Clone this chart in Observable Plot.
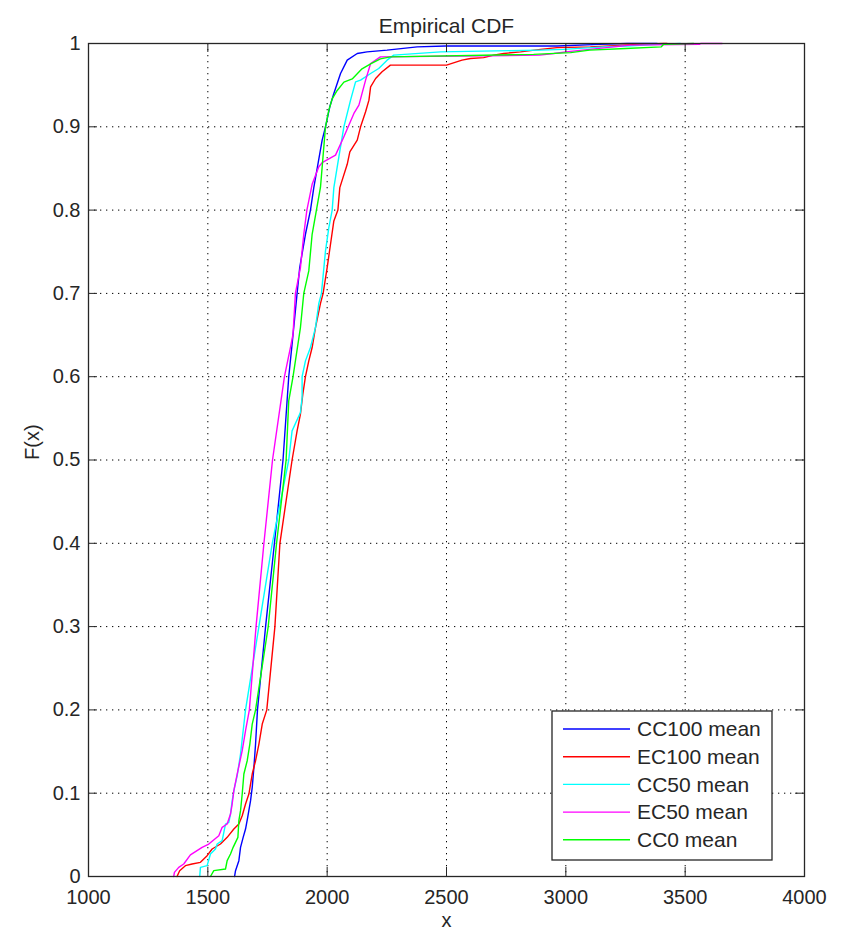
<!DOCTYPE html>
<html><head><meta charset="utf-8">
<script src="https://cdn.jsdelivr.net/npm/d3@7"></script>
<script src="https://cdn.jsdelivr.net/npm/@observablehq/plot@0.6"></script>
<style>
body{margin:0;background:#fff;}
#chart{width:842px;height:935px;}
svg{font-family:"Liberation Sans",Arial,Helvetica,sans-serif;}
</style>
</head><body><div id="chart"></div>
<script>
const titleText = "Empirical CDF";
const xLabel = "x";
const yLabel = "F(x)";
const seriesNames = ["CC100 mean", "EC100 mean", "CC50 mean", "EC50 mean", "CC0 mean"];
const seriesColors = ["#0000ff", "#ff0000", "#00ffff", "#ff00ff", "#00ff00"];
const xTicks = [1000, 1500, 2000, 2500, 3000, 3500, 4000];
const yTicks = [0, 0.1, 0.2, 0.3, 0.4, 0.5, 0.6, 0.7, 0.8, 0.9, 1];
const yTickLabels = ["0", "0.1", "0.2", "0.3", "0.4", "0.5", "0.6", "0.7", "0.8", "0.9", "1"];

// CC100 mean (blue)
const cc100X = [1612,1616,1630,1637,1648,1658,1667,1679,1686,1693,1700,1708,1742,1779,1815,1839,1853,1874,1885,1909,1930,1944,1979,1993,2011,2028,2056,2084,2126,2167,2251,2377,2496,2963,3140,3257,3383];
const cc100F = [0,0.007,0.019,0.035,0.047,0.057,0.071,0.091,0.107,0.131,0.159,0.2,0.3,0.4,0.5,0.6,0.639,0.7,0.731,0.771,0.8,0.827,0.884,0.9,0.924,0.94,0.964,0.98,0.988,0.99,0.992,0.996,0.997,0.997,0.999,1,1];

// EC100 mean (red)
const ec100X = [1371,1382,1406,1434,1469,1497,1518,1553,1581,1609,1630,1644,1658,1672,1686,1700,1714,1728,1747,1781,1802,1853,1874,1888,1898,1909,1923,1937,1951,1972,1983,2000,2014,2028,2045,2053,2084,2095,2126,2140,2161,2175,2182,2203,2230,2265,2500,2565,2600,2656,2698,2740,2810,2894,2963,3103,3300,3410,3424];
const ec100F = [0,0.007,0.013,0.015,0.017,0.025,0.033,0.039,0.047,0.057,0.063,0.073,0.087,0.099,0.123,0.139,0.159,0.183,0.2,0.3,0.4,0.5,0.535,0.555,0.579,0.6,0.619,0.635,0.659,0.688,0.7,0.731,0.759,0.787,0.8,0.827,0.855,0.87,0.884,0.9,0.918,0.932,0.948,0.958,0.966,0.974,0.974,0.98,0.982,0.983,0.986,0.988,0.99,0.993,0.995,0.996,0.999,1,1];

// CC50 mean (cyan)
const cc50X = [1466,1469,1497,1511,1532,1539,1560,1574,1588,1595,1602,1612,1623,1637,1648,1658,1714,1770,1839,1853,1888,1895,1895,1909,1930,1951,1965,1976,1993,2007,2021,2028,2049,2070,2098,2119,2140,2182,2216,2251,2279,2475,2894,2990,3159,3258,3384,3480];
const cc50F = [0,0.011,0.013,0.027,0.033,0.039,0.043,0.063,0.065,0.075,0.091,0.107,0.121,0.147,0.175,0.2,0.3,0.4,0.5,0.535,0.557,0.575,0.6,0.619,0.635,0.659,0.688,0.7,0.751,0.779,0.8,0.827,0.864,0.9,0.932,0.954,0.956,0.964,0.97,0.98,0.986,0.99,0.992,0.993,0.996,0.997,0.999,1];

// EC50 mean (magenta)
const ec50X = [1357,1360,1378,1399,1427,1476,1504,1546,1560,1581,1595,1602,1609,1623,1644,1658,1674,1702,1735,1771,1821,1846,1857,1867,1888,1902,1915,1937,1965,1979,2035,2070,2112,2133,2161,2182,2223,2890,2950,3000,3100,3200,3270,3560,3565,3655];
const ec50F = [0,0.005,0.011,0.015,0.026,0.035,0.039,0.049,0.059,0.063,0.075,0.087,0.103,0.123,0.151,0.175,0.2,0.3,0.4,0.5,0.6,0.635,0.651,0.7,0.731,0.771,0.8,0.831,0.852,0.857,0.866,0.888,0.916,0.926,0.956,0.976,0.984,0.986,0.988,0.99,0.993,0.996,0.998,0.999,1,1];

// CC0 mean (green)
const cc0X = [1511,1525,1574,1581,1595,1606,1626,1630,1637,1644,1651,1665,1676,1686,1700,1753,1788,1828,1839,1857,1888,1902,1923,1937,1955,1972,1993,2007,2021,2042,2070,2105,2126,2146,2182,2223,2265,2865,3020,3100,3250,3400,3410,3535];
const cc0F = [0,0.007,0.009,0.019,0.027,0.035,0.047,0.067,0.079,0.099,0.123,0.139,0.159,0.183,0.2,0.3,0.4,0.5,0.571,0.6,0.659,0.7,0.727,0.771,0.8,0.8275,0.9,0.92,0.9335,0.9436,0.9536,0.9575,0.9636,0.9696,0.9756,0.9816,0.984,0.987,0.989,0.992,0.994,0.996,0.999,1];

const seriesX = [cc100X, ec100X, cc50X, ec50X, cc0X];
const seriesF = [cc100F, ec100F, cc50F, ec50F, cc0F];
const table = seriesNames.flatMap((name, i) => seriesX[i].map((x, j) => ({series: name, x, F: seriesF[i][j]})));

const ink = "#262626";
const W = 842, H = 935;
const mL = 88, mR = 38, mT = 43, mB = 59;
const tickLenPx = 9;
const xPerPx = (4000 - 1000) / (W - mL - mR);
const yPerPx = 1 / (H - mT - mB);
const innerX = xTicks.slice(1, -1);
const innerY = yTicks.slice(1, -1);
const dots = "1.3,4.7";

const plot = Plot.plot({
  width: W, height: H,
  marginLeft: mL, marginRight: mR, marginTop: mT, marginBottom: mB,
  style: {fontFamily: '"Liberation Sans", Arial, sans-serif', background: "#fff", color: ink},
  x: {domain: [1000, 4000], ticks: xTicks},
  y: {domain: [0, 1], ticks: yTicks},
  color: {domain: seriesNames, range: seriesColors},
  marks: [
    Plot.ruleX(innerX, {x: d => d, stroke: "#000", strokeWidth: 1, strokeDasharray: dots}),
    Plot.ruleY(innerY, {y: d => d, stroke: "#000", strokeWidth: 1, strokeDasharray: dots}),
    Plot.line(table, {x: "x", y: "F", z: "series", stroke: "series", strokeWidth: 1.4, curve: "linear"}),
    Plot.ruleX(xTicks, {x: d => d, y1: 0, y2: tickLenPx * yPerPx, stroke: ink}),
    Plot.ruleX(xTicks, {x: d => d, y1: 1 - tickLenPx * yPerPx, y2: 1, stroke: ink}),
    Plot.ruleY(yTicks, {y: d => d, x1: 1000, x2: 1000 + tickLenPx * xPerPx, stroke: ink}),
    Plot.ruleY(yTicks, {y: d => d, x1: 4000 - tickLenPx * xPerPx, x2: 4000, stroke: ink}),
    Plot.frame({stroke: ink, strokeWidth: 1.3}),
    Plot.axisX({ticks: xTicks, tickSize: 0, tickPadding: 13, fontSize: 20, label: null, tickFormat: d => String(d), fill: ink}),
    Plot.axisY({ticks: yTicks, tickSize: 0, tickPadding: 8, fontSize: 20, label: null, tickFormat: (d, i) => yTickLabels[i], fill: ink}),
    Plot.text([titleText], {text: d => d, frameAnchor: "top", dy: -25, fontSize: 21, fill: ink}),
    Plot.text([xLabel], {text: d => d, frameAnchor: "bottom", dy: 50, fontSize: 20, fill: ink}),
    Plot.text([yLabel], {text: d => d, frameAnchor: "left", dx: -56, rotate: -90, fontSize: 20, fill: ink})
  ]
});
document.getElementById("chart").appendChild(plot);

// Legend box inside the plot frame (lower right)
const svg = d3.select(plot);
const xr = plot.scale("x").range, yr = plot.scale("y").range;
const right = Math.max(...xr), bottom = Math.max(...yr);
const lw = 220, lh = 149;
const lx = right - 32 - lw, ly = bottom - 16 - lh;
const g = svg.append("g").attr("text-anchor", "start");
g.append("rect").attr("x", lx).attr("y", ly).attr("width", lw).attr("height", lh)
  .attr("fill", "#fff").attr("stroke", ink).attr("stroke-width", 1.3);
seriesNames.forEach((name, i) => {
  const yy = ly + 18 + i * 27.7;
  g.append("line").attr("x1", lx + 11).attr("x2", lx + 78).attr("y1", yy).attr("y2", yy)
    .attr("stroke", seriesColors[i]).attr("stroke-width", 1.4);
  g.append("text").attr("x", lx + 85).attr("y", yy).attr("dy", "0.35em")
    .attr("text-anchor", "start").attr("font-size", 21).attr("fill", ink).text(name);
});
</script>
</body></html>
